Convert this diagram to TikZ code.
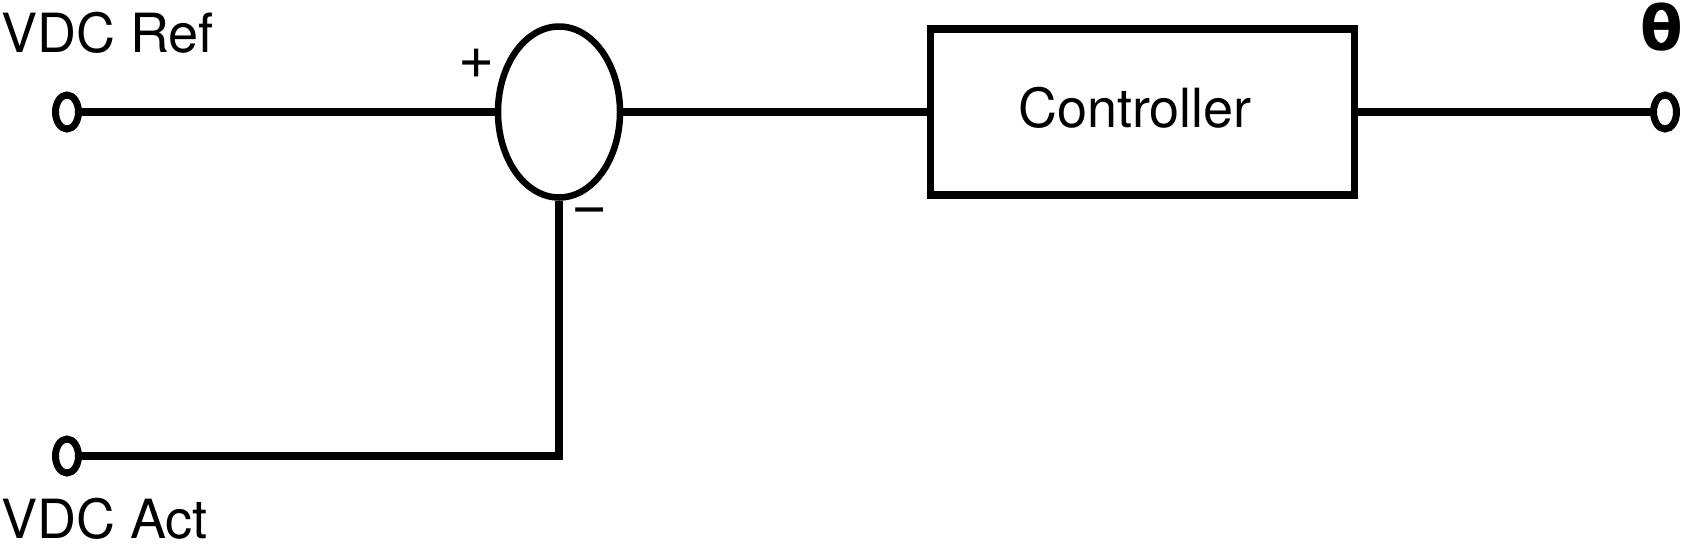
\documentclass[tikz,border=0pt]{standalone}
\usepackage{fontspec}
\setmainfont{TeX Gyre Heros}
\newfontfamily\thetafont{DejaVu Sans}
\usetikzlibrary{shapes.geometric}
\begin{document}
\begin{tikzpicture}[x=1pt,y=-1pt,
  wire/.style={line width=8pt},
  terminal/.style={draw,ellipse,line width=7pt,inner sep=0pt,minimum width=23pt,minimum height=34pt},
  lbl/.style={inner sep=0pt,font=\fontsize{54}{60}\selectfont},
  sumnode/.style={draw,ellipse,line width=6.5pt,inner sep=0pt,minimum width=122pt,minimum height=171pt},
  blockbox/.style={draw,line width=7.5pt,inner sep=0pt,minimum width=424pt,minimum height=166pt}]
\useasboundingbox (0,0) rectangle (1683,547);
\node[terminal] (tref) at (67,112) {};
\node[terminal] (tact) at (67,456) {};
\node[terminal] (tout) at (1665,112) {};
\node[sumnode] (sum) at (559,112) {};
\node[blockbox] (ctrl) at (1142.5,112) {};
\node[lbl,anchor=base] (ctext) at (1135,127) {Controller};
\node[lbl,anchor=base west] (lref) at (1,52) {VDC Ref};
\node[lbl,anchor=base west] (lact) at (1,538) {VDC Act};
\node[inner sep=0pt,font=\fontsize{62}{70}\selectfont] (plus) at (477,64) {+};
\node[inner sep=0pt,font=\fontsize{62}{70}\selectfont] (minus) at (590,217) {−};
\node[inner sep=0pt,anchor=base,font=\fontsize{62}{70}\thetafont\bfseries] (theta) at (1662,50) {θ};
\draw[wire] (tref.east) -- (sum.west);
\draw[wire] (sum.east) -- (ctrl.west);
\draw[wire] (ctrl.east) -- (tout.west);
\draw[wire] (tact.east) -| (sum.south);
\end{tikzpicture}
\end{document}
